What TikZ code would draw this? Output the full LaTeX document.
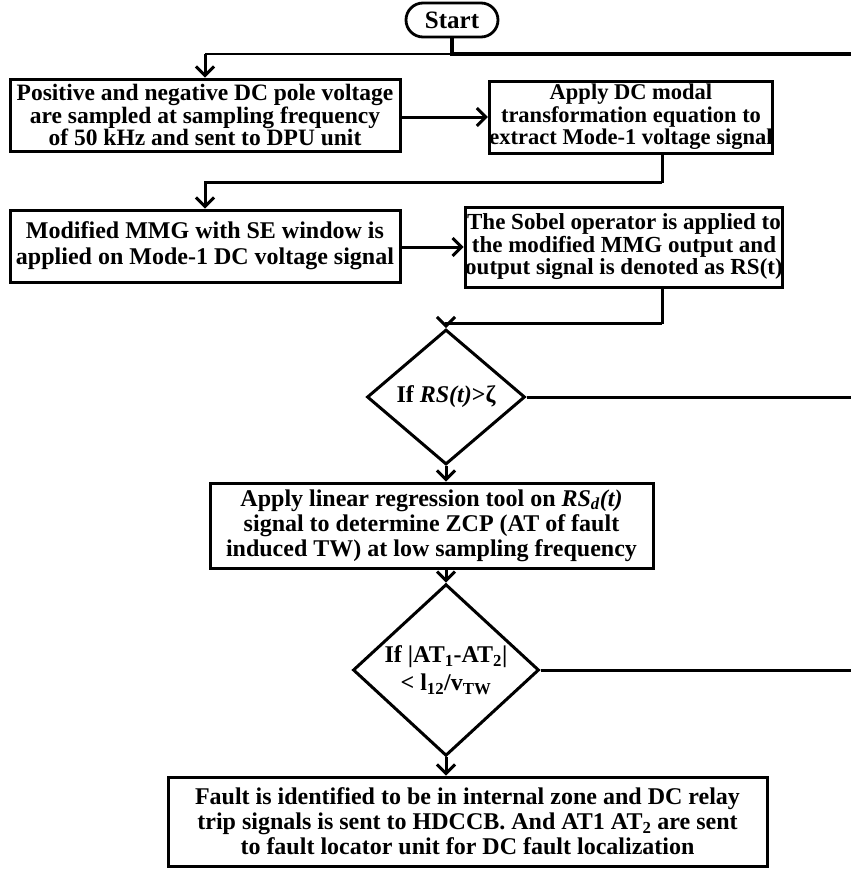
\documentclass[tikz,border=0pt]{standalone}
\usepackage{fontspec}
\setmainfont{Liberation Serif}
\usetikzlibrary{arrows.meta,shapes.geometric,shapes.misc}
\tikzset{
  procbox/.style={draw, line width=3pt, rectangle, inner sep=0pt, align=center,
    font=\bfseries\fontsize{23.5}{22.5}\selectfont},
  lowbox/.style={procbox, font=\bfseries\fontsize{24}{25}\selectfont},
  decision/.style={draw, line width=3pt, diamond, inner sep=0pt, align=center,
    font=\bfseries\fontsize{24}{28}\selectfont},
  startbox/.style={draw, line width=2.8pt, rounded rectangle, inner sep=0pt,
    font=\bfseries\fontsize{25}{25}\selectfont},
  conn/.style={line width=3pt},
  arr/.style={line width=3pt, -{Straight Barb[length=9pt,width=18pt]}},
}
\begin{document}
\begin{tikzpicture}[x=1pt,y=-1pt]
\useasboundingbox (0,0) rectangle (851,873);

\node[startbox, minimum width=92pt, minimum height=34pt] (start) at (452,20) {Start};

\node[procbox, minimum width=390pt, minimum height=72pt] (b1) at (205,115)
  {Positive and negative DC pole voltage\\are sampled at sampling frequency\\of 50 kHz and sent to DPU unit};
\node[procbox, minimum width=280pt, minimum height=72pt,
  font=\bfseries\fontsize{22.5}{22.5}\selectfont] (b2) at (631,117)
  {Apply DC modal\\transformation equation to\\extract Mode-1 voltage signal};
\node[procbox, minimum width=390pt, minimum height=72pt,
  font=\bfseries\fontsize{24}{26}\selectfont] (b3) at (205,246)
  {Modified MMG with SE window is\\applied on Mode-1 DC voltage signal};
\node[procbox, minimum width=294pt, minimum height=80pt,
  font=\bfseries\fontsize{23}{22.5}\selectfont] (b4) at (624,247)
  {The Sobel operator is applied to\\the modified MMG output and\\output signal is denoted as RS(t)};

\node[decision, minimum width=158pt, minimum height=135pt] (d1) at (446,397)
  {If \textit{RS(t)}>ζ};

\node[lowbox, minimum width=443pt, minimum height=85pt] (b5) at (431.5,525.5)
  {Apply linear regression tool on \textit{RS\textsubscript{d}(t)}\\ signal to determine ZCP (AT of fault\\induced TW) at low sampling frequency};

\node[decision, minimum width=186pt, minimum height=140pt] (d2) at (446,670)
  {If |AT\textsubscript{1}-AT\textsubscript{2}|\\< l\textsubscript{12}/v\textsubscript{TW}};

\node[lowbox, minimum width=599pt, minimum height=89pt] (b6) at (467.5,821.5)
  {Fault is identified to be in internal zone and DC relay\\trip signals is sent to HDCCB. And AT1 AT\textsubscript{2} are sent\\to fault locator unit for DC fault localization};

\coordinate (e1) at (851,54);
\coordinate (e2) at (851,397);
\coordinate (e3) at (851,670);

\draw[conn, line width=3.4pt] (start.south) -- (start.south |- e1) -- (e1);
\draw[line width=1.8pt] (start.south |- e1) -- (b1.north |- e1);
\draw[arr] (b1.north |- e1) -- (b1.north);

\draw[arr] (b1.east |- b2.west) -- (b2.west);
\draw[conn] ([xshift=31pt]b2.south) -- ++(0,28) coordinate (j2);
\draw[arr] (j2) -| (b3.north);

\draw[arr] (b3.east |- b4.west) -- (b4.west);
\draw[conn] ([xshift=38pt]b4.south) -- ++(0,35) coordinate (j4);
\draw[arr] (j4) -| (d1.north);

\draw[conn] (d1.east) -- (e2);
\draw[arr] (d1.south) -- (d1.south |- b5.north);
\draw[arr] (d2.north |- b5.south) -- (d2.north);
\draw[conn] (d2.east) -- (e3);
\draw[arr] (d2.south) -- (d2.south |- b6.north);
\end{tikzpicture}
\end{document}
